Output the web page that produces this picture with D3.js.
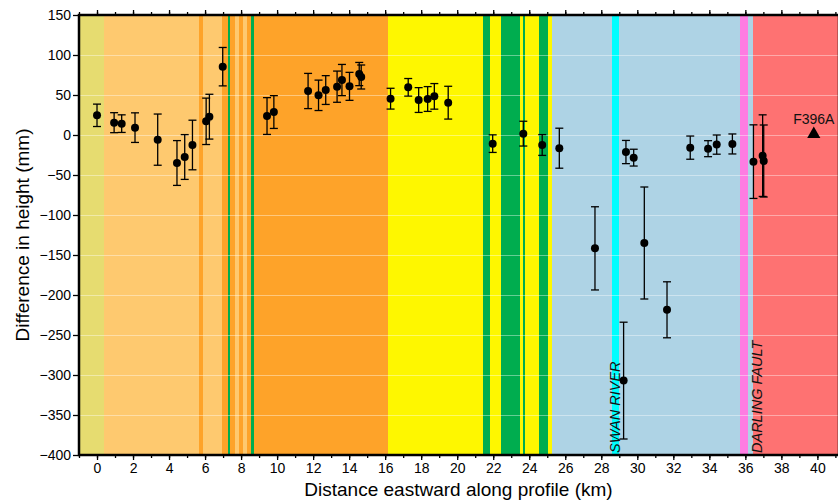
<!DOCTYPE html>
<html><head><meta charset="utf-8">
<script src="https://cdn.jsdelivr.net/npm/d3@7"></script>
<style>
html,body{margin:0;padding:0;background:#fff;}
svg{display:block;font-family:"Liberation Sans",Arial,Helvetica,sans-serif;}
</style></head>
<body><svg id="chart" width="838" height="501"></svg>
<script>
// ---- data ----
const bandEdges = [-1, 0.37, 5.65, 5.88, 6.93, 7.26, 7.37, 7.65, 7.87, 8.09, 8.32, 8.54, 8.71, 16.15, 21.43, 21.82, 22.43, 23.48, 23.65, 23.76, 24.54, 25.04, 25.26, 28.59, 29.0, 35.7, 36.15, 36.43, 41.2];
const bandColors = ["#e6dc70","#fec96f","#fea329","#fec96f","#fea329","#00ad4f","#fea329","#fec96f","#fea329","#fec96f","#fea329","#00ad4f","#fea329","#fef700","#00ad4f","#fef700","#00ad4f","#fef700","#00ad4f","#fef700","#00ad4f","#fef700","#aed3e5","#00fefe","#aed3e5","#fe7ce2","#aed3e5","#fe7272"];
const distKm = [0, 0.95, 1.37, 2.11, 3.37, 4.44, 4.87, 5.3, 6.06, 6.24, 6.98, 9.44, 9.82, 11.72, 12.3, 12.7, 13.33, 13.6, 14.02, 14.56, 14.67, 16.3, 17.28, 17.86, 18.36, 18.73, 19.5, 21.97, 23.67, 24.72, 25.67, 27.65, 29.24, 29.37, 29.8, 30.39, 31.65, 32.94, 33.93, 34.41, 35.28, 36.45, 36.96, 37.02];
const heightDiff = [24.6, 15.4, 14.2, 9.2, -5.8, -35, -27.5, -12.5, 17.1, 22.9, 85.4, 23.7, 28.7, 55, 49.6, 56.2, 60.4, 68.7, 60.8, 76.2, 72.5, 45.4, 59.6, 43.7, 45, 48.3, 40.4, -10.8, 1.7, -12.5, -16.5, -141.7, -307, -21.3, -28.3, -135, -218.5, -15.8, -17.1, -12, -11.2, -33.3, -25.8, -32.5];
const errMm = [14, 12.5, 11, 18.5, 32, 28, 28, 31, 29, 28, 24, 23, 20.5, 22, 19, 18, 19.5, 19.5, 17.5, 14.5, 15, 13, 11, 15.5, 15.5, 16, 20.5, 11, 15.5, 13, 25, 52, 73, 14.5, 10.5, 70, 35, 14.5, 10, 12, 12.5, 46, 51, 45];
const refStation = {name: "F396A", km: 39.8, mm: 1};
const features = [{name: "SWAN RIVER", km: 29.03}, {name: "DARLING FAULT", km: 36.9}];
const xTicks = d3.range(0, 41, 2);
const yTicks = d3.range(-400, 151, 50);

// ---- layout ----
const L = 79, T = 15, R = 839, B = 455;
const svg = d3.select("#chart");
const x = d3.scaleLinear().domain([-1, 41.2]).range([L, R]);
const y = d3.scaleLinear().domain([-400, 150]).range([B, T]);

// bands
const bands = bandColors.map((c, i) => ({x0: bandEdges[i], x1: bandEdges[i + 1], c}));
svg.append("g").selectAll("rect").data(bands).join("rect")
  .attr("x", d => x(d.x0)).attr("y", T)
  .attr("width", d => x(d.x1) - x(d.x0)).attr("height", B - T)
  .attr("fill", d => d.c).attr("shape-rendering", "crispEdges");

// gridlines
svg.append("g").selectAll("line").data(yTicks.slice(1, -1)).join("line")
  .attr("x1", L).attr("x2", R).attr("y1", d => y(d) + 0.5).attr("y2", d => y(d) + 0.5)
  .attr("stroke", "#fff").attr("stroke-opacity", 0.4).attr("stroke-width", 1);

// feature labels
svg.append("g").selectAll("text").data(features).join("text")
  .attr("transform", d => `translate(${x(d.km)},${B - 2}) rotate(-90)`)
  .attr("font-size", 14.5).attr("font-style", "italic").attr("fill", "#111")
  .text(d => d.name);

// error bars
const pts = distKm.map((k, i) => ({k, v: heightDiff[i], e: errMm[i]}));
const eb = svg.append("g").attr("stroke", "#000").attr("stroke-width", 1.3).attr("fill", "none");
eb.selectAll(".v").data(pts).join("line")
  .attr("x1", d => x(d.k)).attr("x2", d => x(d.k))
  .attr("y1", d => y(d.v + d.e)).attr("y2", d => y(d.v - d.e));
eb.selectAll(".t").data(pts).join("line")
  .attr("x1", d => x(d.k) - 4).attr("x2", d => x(d.k) + 4)
  .attr("y1", d => y(d.v + d.e)).attr("y2", d => y(d.v + d.e));
eb.selectAll(".b").data(pts).join("line")
  .attr("x1", d => x(d.k) - 4).attr("x2", d => x(d.k) + 4)
  .attr("y1", d => y(d.v - d.e)).attr("y2", d => y(d.v - d.e));

// points
svg.append("g").selectAll("circle").data(pts).join("circle")
  .attr("cx", d => x(d.k)).attr("cy", d => y(d.v)).attr("r", 4).attr("fill", "#000");

// reference station
svg.append("path")
  .attr("d", d3.symbol().type(d3.symbolTriangle).size(75)())
  .attr("transform", `translate(${x(refStation.km)},${y(refStation.mm)})`)
  .attr("fill", "#000");
svg.append("text").attr("x", x(refStation.km)).attr("y", y(refStation.mm) - 10)
  .attr("text-anchor", "middle").attr("font-size", 14).attr("fill", "#111").text(refStation.name);

// axes
const xAxisB = d3.axisBottom(x).tickValues(xTicks).tickSize(5).tickPadding(3).tickFormat(d3.format("d"));
svg.append("g").attr("transform", `translate(0,${B})`).call(xAxisB);
const xMinor = d3.range(-1, 42, 1);
svg.append("g").attr("transform", `translate(0,${B})`)
  .call(d3.axisBottom(x).tickValues(xMinor).tickSize(3).tickFormat(""));
svg.append("g").attr("transform", `translate(0,${T})`)
  .call(d3.axisTop(x).tickValues(xTicks).tickSize(5).tickFormat(""));
svg.append("g").attr("transform", `translate(0,${T})`)
  .call(d3.axisTop(x).tickValues(xMinor).tickSize(3).tickFormat(""));
svg.append("g").attr("transform", `translate(${L},0)`)
  .call(d3.axisLeft(y).tickValues(yTicks).tickSize(6).tickPadding(2));
svg.selectAll(".domain").remove();
svg.selectAll(".tick line").attr("stroke", "#000").attr("stroke-width", 1.3);
svg.selectAll(".tick text").attr("font-size", 14).attr("fill", "#000")
  .attr("font-family", "Liberation Sans, Arial, sans-serif");

// frame
svg.append("rect").attr("x", L).attr("y", T).attr("width", R - L).attr("height", B - T)
  .attr("fill", "none").attr("stroke", "#000").attr("stroke-width", 2.5);

// titles
svg.append("text").attr("x", 458.5).attr("y", 496)
  .attr("text-anchor", "middle").attr("font-size", 19).attr("fill", "#000")
  .text("Distance eastward along profile (km)");
svg.append("text").attr("transform", `translate(29,${(T + B) / 2}) rotate(-90)`)
  .attr("text-anchor", "middle").attr("font-size", 19).attr("fill", "#000")
  .text("Difference in height (mm)");
</script></body></html>
